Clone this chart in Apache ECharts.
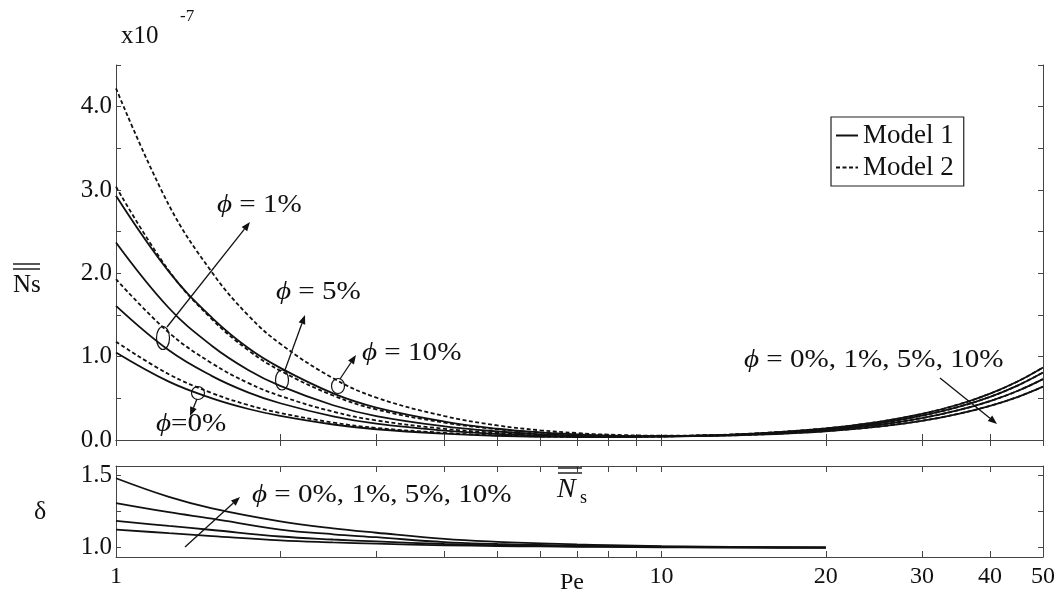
<!DOCTYPE html>
<html><head><meta charset="utf-8">
<script src="https://cdn.jsdelivr.net/npm/echarts@6/dist/echarts.min.js"></script>
<style>html,body{margin:0;padding:0;background:#fff}#c{width:1061px;height:601px}</style>
</head><body><div id="c"></div><script>
// ---------- data ----------
const pe = [1, 1.25, 1.5, 1.75, 2, 2.5, 3, 4, 5, 6, 7, 8, 10, 12, 15, 20, 25, 30, 35, 40, 45, 50];
// entropy generation Ns (x1e-7), Model 1 (solid) / Model 2 (dashed)
const ns_m1_phi0  = [1.05, 0.70, 0.50, 0.372, 0.289, 0.186, 0.129, 0.076, 0.051, 0.039, 0.035, 0.034, 0.041, 0.054, 0.080, 0.140, 0.218, 0.313, 0.426, 0.557, 0.705, 0.87];
const ns_m2_phi0  = [1.18, 0.789, 0.563, 0.418, 0.324, 0.209, 0.145, 0.085, 0.056, 0.0425, 0.037, 0.036, 0.042, 0.055, 0.081, 0.140, 0.218, 0.313, 0.426, 0.557, 0.705, 0.87];
const ns_m1_phi1  = [1.61, 1.076, 0.767, 0.569, 0.441, 0.284, 0.196, 0.113, 0.0725, 0.0526, 0.043, 0.039, 0.0425, 0.053, 0.076, 0.131, 0.203, 0.292, 0.397, 0.518, 0.656, 0.81];
const ns_m2_phi1  = [1.93, 1.289, 0.919, 0.682, 0.529, 0.340, 0.235, 0.1345, 0.085, 0.061, 0.048, 0.043, 0.045, 0.054, 0.077, 0.132, 0.203, 0.292, 0.397, 0.518, 0.656, 0.81];
const ns_m1_phi5  = [2.37, 1.584, 1.129, 0.838, 0.649, 0.417, 0.287, 0.1635, 0.102, 0.0707, 0.054, 0.0457, 0.044, 0.051, 0.071, 0.119, 0.183, 0.263, 0.358, 0.467, 0.591, 0.73];
const ns_m2_phi5  = [3.04, 2.031, 1.448, 1.074, 0.832, 0.534, 0.367, 0.208, 0.129, 0.088, 0.065, 0.053, 0.048, 0.054, 0.072, 0.120, 0.183, 0.263, 0.358, 0.467, 0.591, 0.73];
const ns_m1_phi10 = [2.93, 2.02, 1.466, 1.10, 0.865, 0.559, 0.389, 0.221, 0.135, 0.091, 0.067, 0.053, 0.0455, 0.049, 0.064, 0.105, 0.16, 0.23, 0.314, 0.41, 0.518, 0.64];
const ns_m2_phi10 = [4.22, 2.82, 2.01, 1.49, 1.155, 0.741, 0.509, 0.287, 0.175, 0.116, 0.083, 0.064, 0.052, 0.053, 0.066, 0.107, 0.162, 0.231, 0.315, 0.41, 0.518, 0.64];
// delta (ratio) panel
const peDelta = [1, 1.25, 1.5, 2, 2.5, 3, 4, 5, 6, 7, 8, 10, 12, 15, 20];
const delta_phi0  = [1.125, 1.10, 1.08, 1.05, 1.036, 1.027, 1.016, 1.011, 1.008, 1.006, 1.0045, 1.0025, 1.0015, 1.0008, 1.0];
const delta_phi1  = [1.185, 1.15, 1.122, 1.077, 1.056, 1.043, 1.025, 1.017, 1.012, 1.009, 1.007, 1.004, 1.002, 1.001, 1.0];
const delta_phi5  = [1.308, 1.245, 1.20, 1.125, 1.092, 1.072, 1.038, 1.025, 1.018, 1.013, 1.010, 1.006, 1.003, 1.0015, 1.0];
const delta_phi10 = [1.48, 1.351, 1.272, 1.182, 1.133, 1.103, 1.060, 1.040, 1.030, 1.022, 1.017, 1.010, 1.006, 1.003, 1.001];
// ticks / labels
const xTicks = [1, 2, 3, 4, 5, 6, 7, 8, 9, 10, 20, 30, 40, 50];
const xLabels = [1, 10, 20, 30, 40, 50];
const nsLabels = [0, 1, 2, 3, 4];
const deltaTicks = [1.0, 1.25, 1.5];
const deltaLabels = [1.0, 1.5];

// ---------- chart ----------
const F = "'Liberation Serif','Times New Roman',serif";
const INK = '#111';
const AX = '#444';
const SX = 1.12; // horizontal stretch of the reference's annotation text
const chart = echarts.init(document.getElementById('c'), null, {renderer: 'canvas'});

function pairs(xs, ys) { return xs.map((x, i) => [x, ys[i]]); }
function nsSeries(name, ys, dashed) {
  return {type: 'line', name: name, xAxisIndex: 0, yAxisIndex: 0, data: pairs(pe, ys),
    showSymbol: false, symbol: 'none', smooth: 0.4, silent: true,
    lineStyle: {color: INK, width: 1.8, type: dashed ? [4, 2.5] : 'solid'}, itemStyle: {color: INK}};
}
function dSeries(name, ys) {
  return {type: 'line', name: name, xAxisIndex: 2, yAxisIndex: 2, data: pairs(peDelta, ys),
    showSymbol: false, symbol: 'none', smooth: 0.4, silent: true,
    lineStyle: {color: INK, width: 1.8}};
}
function xAx(grid, pos, labels) {
  return {type: 'log', logBase: 10, min: 1, max: 50, gridIndex: grid, position: pos,
    axisLine: {show: true, lineStyle: {color: AX, width: 1}},
    axisTick: {show: true, inside: true, length: 6, customValues: xTicks, lineStyle: {color: AX}},
    axisLabel: labels ? {show: true, customValues: xLabels, fontFamily: F, fontSize: 24, color: INK, margin: 8} : {show: false},
    splitLine: {show: false}, minorTick: {show: false}};
}
function yNs(pos, labels) {
  return {type: 'value', gridIndex: 0, position: pos, min: 0, max: 4.5, interval: 0.5,
    axisLine: {show: true, lineStyle: {color: AX}},
    axisTick: {show: true, inside: true, length: 5, lineStyle: {color: AX}},
    axisLabel: labels ? {show: true, customValues: nsLabels, formatter: v => Number(v).toFixed(1), fontFamily: F, fontSize: 25, color: INK, margin: 4} : {show: false},
    splitLine: {show: false}};
}
function yD(pos, labels) {
  return {type: 'value', gridIndex: 1, position: pos, min: 0.935, max: 1.565,
    axisLine: {show: true, lineStyle: {color: AX}},
    axisTick: {show: true, inside: true, length: 5, customValues: deltaTicks, lineStyle: {color: AX}},
    axisLabel: labels ? {show: true, customValues: deltaLabels, formatter: v => Number(v).toFixed(1), fontFamily: F, fontSize: 25, color: INK, margin: 4} : {show: false},
    splitLine: {show: false}};
}

function T(x, y, text, size, extra) {
  return {type: 'text', x: x, y: y, z: 100, silent: true,
    style: Object.assign({text: text, fontSize: size, fontFamily: F, fill: INK, align: 'left', verticalAlign: 'middle'}, extra || {})};
}
function phiT(x, y, rest, size) {
  return {type: 'text', x: x, y: y, z: 100, silent: true, scaleX: SX,
    style: {text: '{i|\u03D5}' + rest, fontSize: size, fontFamily: F, fill: INK, align: 'left', verticalAlign: 'middle',
      rich: {i: {fontStyle: 'italic', fontSize: size, fontFamily: F, fill: INK}}}};
}
function arrow(x1, y1, x2, y2) {
  const a = Math.atan2(y2 - y1, x2 - x1), L = 9, W = 3.5;
  const bx = x2 - L * Math.cos(a), by = y2 - L * Math.sin(a);
  const px = -Math.sin(a) * W, py = Math.cos(a) * W;
  return [
    {type: 'line', z: 100, silent: true, shape: {x1: x1, y1: y1, x2: bx, y2: by}, style: {stroke: INK, lineWidth: 1.3}},
    {type: 'polygon', z: 100, silent: true, shape: {points: [[x2, y2], [bx + px, by + py], [bx - px, by - py]]}, style: {fill: INK}}
  ];
}
function ell(cx, cy, rx, ry) {
  return {type: 'ellipse', z: 100, silent: true, shape: {cx: cx, cy: cy, rx: rx, ry: ry}, style: {fill: 'none', stroke: INK, lineWidth: 1.2}};
}
function bar(x1, x2, y) {
  return {type: 'line', z: 100, silent: true, shape: {x1: x1, y1: y, x2: x2, y2: y}, style: {stroke: INK, lineWidth: 1.4}};
}

const graphics = [].concat(
  [T(121, 36, 'x10', 25), T(180, 17, '-7', 17)],
  // y-axis name (Ns with double bar)
  [T(13, 285, 'Ns', 25), bar(13, 40, 264), bar(13, 40, 269)],
  [T(34, 512, '\u03B4', 26)],
  [T(560, 583, 'Pe', 24)],
  // Ns symbol in the delta panel
  [T(557, 490, 'N', 28, {fontStyle: 'italic'}), T(580, 498, 's', 18), bar(558, 582, 468), bar(558, 582, 473)],
  // annotations top panel
  [phiT(217, 205, ' = 1%', 26), phiT(276, 292, ' = 5%', 26), phiT(362, 353, ' = 10%', 26), phiT(156, 424, '=0%', 26),
   phiT(744, 360, ' = 0%, 1%, 5%, 10%', 26)],
  [ell(163, 338, 6.5, 11.5), ell(198, 393, 6.5, 6.5), ell(282, 380, 6.5, 10), ell(338, 386, 6.5, 7.5)],
  arrow(167, 327, 250, 222), arrow(285, 370, 305, 315), arrow(340, 379, 356, 355), arrow(197, 399, 190, 416),
  arrow(940, 378, 997, 424),
  // annotation bottom panel
  [phiT(252, 495, ' = 0%, 1%, 5%, 10%', 26)],
  arrow(185, 547, 240, 497)
);

const option = {
  animation: false,
  backgroundColor: '#fff',
  grid: [
    {left: 116, right: 18, top: 65, height: 375, containLabel: false},
    {left: 116, right: 18, top: 466, height: 91, containLabel: false}
  ],
  xAxis: [xAx(0, 'bottom', false), xAx(0, 'top', false), xAx(1, 'bottom', true), xAx(1, 'top', false)],
  yAxis: [yNs('left', true), yNs('right', false), yD('left', true), yD('right', false)],
  legend: {
    data: ['Model 1', 'Model 2'], orient: 'vertical', left: 831, top: 117, selectedMode: false,
    itemWidth: 22, itemHeight: 2, itemGap: 5, padding: [5, 10, 5, 4],
    itemStyle: {opacity: 0},
    borderColor: '#222', borderWidth: 1.2, backgroundColor: '#fff',
    textStyle: {fontFamily: F, fontSize: 27, color: INK}
  },
  series: [
    nsSeries('Model 1', ns_m1_phi0, false), nsSeries('Model 2', ns_m2_phi0, true),
    nsSeries('Model 1', ns_m1_phi1, false), nsSeries('Model 2', ns_m2_phi1, true),
    nsSeries('Model 1', ns_m1_phi5, false), nsSeries('Model 2', ns_m2_phi5, true),
    nsSeries('Model 1', ns_m1_phi10, false), nsSeries('Model 2', ns_m2_phi10, true),
    dSeries('delta 0%', delta_phi0), dSeries('delta 1%', delta_phi1),
    dSeries('delta 5%', delta_phi5), dSeries('delta 10%', delta_phi10)
  ],
  graphic: graphics
};
chart.setOption(option);
</script></body></html>
